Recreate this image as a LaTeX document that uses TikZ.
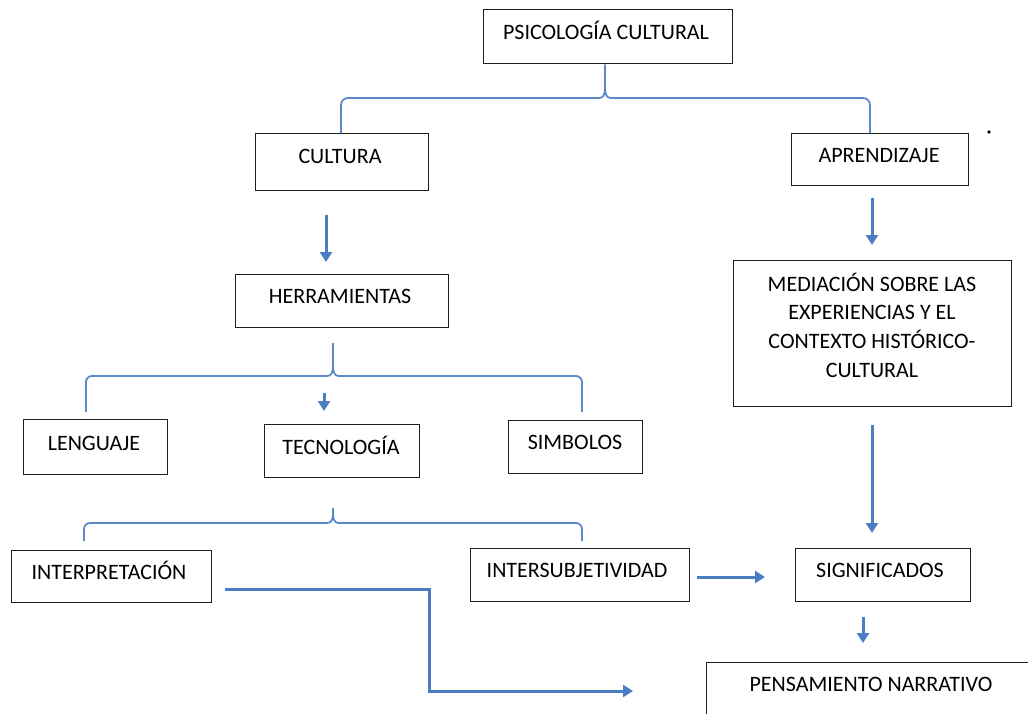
\documentclass[tikz,border=0pt]{standalone}
\usepackage{fontspec}
\setmainfont{Carlito}
\usetikzlibrary{arrows.meta}
\definecolor{ofblue}{HTML}{4A7DC2}
\begin{document}
\begin{tikzpicture}[x=1pt,y=-1pt,
  box/.style={draw=black!88, line width=1.4pt, anchor=north west, inner sep=0pt},
  lbl/.style={font=\fontsize{22}{28.6}\selectfont, inner sep=0pt, align=center, text height=15pt, text depth=0pt},
  arr/.style={draw=ofblue, line width=3pt, -{Triangle[width=12pt,length=10pt]}},
  brace/.style={draw=ofblue!90, line width=1.8pt}]
\useasboundingbox (0,0) rectangle (1028,713);
\clip (0,0) rectangle (1028,713);
% boxes
\node[box, minimum width=249pt, minimum height=54pt] (psi) at (483,9) {};
\node[box, minimum width=173pt, minimum height=57pt] (cult) at (255,133) {};
\node[box, minimum width=177pt, minimum height=52pt] (apre) at (791,133) {};
\node[box, minimum width=213pt, minimum height=53pt] (herr) at (235,274) {};
\node[box, minimum width=278pt, minimum height=146pt] (medi) at (733,260) {};
\node[box, minimum width=144pt, minimum height=55pt] (leng) at (23,419) {};
\node[box, minimum width=155pt, minimum height=53pt] (tecn) at (264,424) {};
\node[box, minimum width=134pt, minimum height=53pt] (simb) at (508,420) {};
\node[box, minimum width=200pt, minimum height=52pt] (inte) at (11,550) {};
\node[box, minimum width=219pt, minimum height=53pt] (insu) at (470,548) {};
\node[box, minimum width=175pt, minimum height=53pt] (sign) at (795,548) {};
\node[box, minimum width=330pt, minimum height=80pt] (pens) at (706,662) {};
% labels
\node[lbl] (psiT) at (606,32) {PSICOLOGÍA CULTURAL};
\node[lbl] (cultT) at (340,156) {CULTURA};
\node[lbl] (apreT) at (879,155) {APRENDIZAJE};
\node[lbl] (herrT) at (340,296) {HERRAMIENTAS};
\node[lbl, text height=, text depth=] (mediT) at (872,325) {MEDIACIÓN SOBRE LAS\\EXPERIENCIAS Y EL\\CONTEXTO HISTÓRICO-\\CULTURAL};
\node[lbl] (lengT) at (94,443) {LENGUAJE};
\node[lbl] (tecnT) at (341,447) {TECNOLOGÍA};
\node[lbl] (simbT) at (575,442) {SIMBOLOS};
\node[lbl] (inteT) at (109,572) {INTERPRETACIÓN};
\node[lbl] (insuT) at (577,570) {INTERSUBJETIVIDAD};
\node[lbl] (signT) at (880,570) {SIGNIFICADOS};
\node[lbl] (pensT) at (871,684) {PENSAMIENTO NARRATIVO};
% dot
\fill (989,132) circle (1.8pt);
% braces
\draw[brace, rounded corners=7pt] (341,133) -- (341,98) -- (599,98);
\draw[brace, rounded corners=7pt] (611,98) -- (870,98) -- (870,133);
\draw[brace] (599,98) .. controls (603,98) and (605,95) .. (605,88) -- (psi.south -| 605,0);
\draw[brace] (611,98) .. controls (607,98) and (605,95) .. (605,88);
\draw[brace, rounded corners=6pt] (86,412) -- (86,376) -- (327,376);
\draw[brace, rounded corners=6pt] (339,376) -- (582,376) -- (582,412);
\draw[brace] (327,376) .. controls (331,376) and (333,373) .. (333,366) -- (333,343);
\draw[brace] (339,376) .. controls (335,376) and (333,373) .. (333,366);
\draw[brace, rounded corners=6pt] (84,541) -- (84,523) -- (327,523);
\draw[brace, rounded corners=6pt] (339,523) -- (582,523) -- (582,541);
\draw[brace] (327,523) .. controls (331,523) and (333,520) .. (333,514) -- (333,508);
\draw[brace] (339,523) .. controls (335,523) and (333,520) .. (333,514);
% arrow coordinates
\coordinate (a1s) at (326,215); \coordinate (a1e) at (326,262);
\coordinate (a2s) at (872,198); \coordinate (a2e) at (872,245);
\coordinate (a3s) at (872,425); \coordinate (a3e) at (872,533);
\coordinate (a4s) at (324,393); \coordinate (a4e) at (324,411);
\coordinate (a5s) at (697,577); \coordinate (a5e) at (765,577);
\coordinate (a6s) at (863,617); \coordinate (a6e) at (863,643);
\coordinate (a7s) at (225,589); \coordinate (a7m) at (429,691); \coordinate (a7e) at (633,691);
\draw[arr] (a1s) -- (a1e);
\draw[arr] (a2s) -- (a2e);
\draw[arr] (a3s) -- (a3e);
\draw[arr] (a4s) -- (a4e);
\draw[arr] (a5s) -- (a5e);
\draw[arr] (a6s) -- (a6e);
\draw[arr] (a7s) -| (a7m) -- (a7e);
\end{tikzpicture}
\end{document}
